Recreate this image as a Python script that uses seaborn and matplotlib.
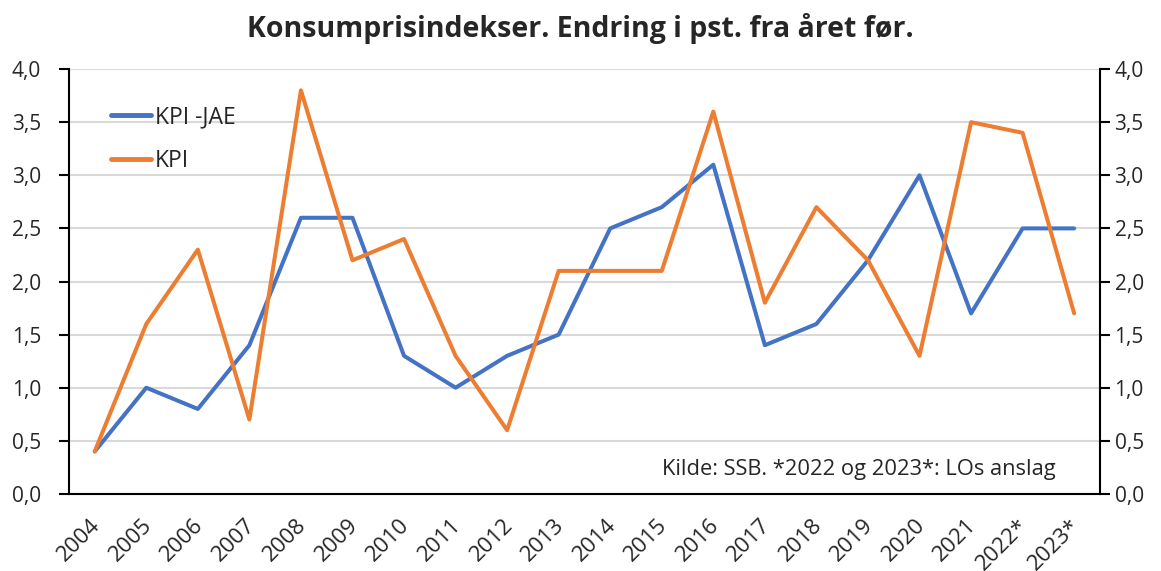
import matplotlib.pyplot as plt
import matplotlib.ticker as mticker
import matplotlib.transforms as mtrans
import numpy as np
import pandas as pd
import seaborn as sns

years = ['2004', '2005', '2006', '2007', '2008', '2009', '2010', '2011', '2012', '2013',
         '2014', '2015', '2016', '2017', '2018', '2019', '2020', '2021', '2022*', '2023*']
kpi_jae = [0.4, 1.0, 0.8, 1.4, 2.6, 2.6, 1.3, 1.0, 1.3, 1.5,
           2.5, 2.7, 3.1, 1.4, 1.6, 2.2, 3.0, 1.7, 2.5, 2.5]
kpi = [0.4, 1.6, 2.3, 0.7, 3.8, 2.2, 2.4, 1.3, 0.6, 2.1,
       2.1, 2.1, 3.6, 1.8, 2.7, 2.2, 1.3, 3.5, 3.4, 1.7]
series_names = ['KPI -JAE', 'KPI']
colors = ['#4472C4', '#ED7D31']

sns.set_style('white')
plt.rcParams['font.family'] = ['Open Sans', 'DejaVu Sans']

pos = np.arange(len(years))
df = pd.DataFrame({
    'pos': np.concatenate([pos, pos]),
    'value': kpi_jae + kpi,
    'serie': [series_names[0]] * len(years) + [series_names[1]] * len(years),
})

fig = plt.figure(figsize=(11.61, 5.71), dpi=100)
ax = fig.add_axes([0.0594, 0.135, 0.888, 0.744])

sns.lineplot(data=df, x='pos', y='value', hue='serie', palette=colors,
             linewidth=2.9, ax=ax, zorder=3)

ax.set_xlim(-0.5, len(years) - 0.5)
ax.set_ylim(0, 4)
ax.set_yticks(np.arange(0, 4.01, 0.5))
fmt = mticker.FuncFormatter(lambda v, p: f'{v:.1f}'.replace('.', ','))
ax.yaxis.set_major_formatter(fmt)
ax.grid(axis='y', color='#D9D9D9', linewidth=1.5, zorder=0)
ax.set_axisbelow(True)

# ticks at category boundaries, labels at centres
ax.set_xticks(np.arange(-0.5, len(years), 1.0))
ax.set_xticklabels([])
ax.set_xticks(pos, minor=True)
ax.set_xticklabels(years, minor=True, rotation=45, ha='right',
                   rotation_mode='anchor', fontsize=16)
ax.tick_params(axis='x', which='major', length=7, width=1.5, direction='out', color='black')
ax.tick_params(axis='x', which='minor', length=0, pad=15)
shift = mtrans.ScaledTranslation(-5 / 100, 0, fig.dpi_scale_trans)
for lbl in ax.get_xticklabels(minor=True):
    lbl.set_transform(lbl.get_transform() + shift)
ax.tick_params(axis='y', length=7, width=1.5, direction='out', labelsize=15,
               color='black', pad=13)

for s in ['top', 'right']:
    ax.spines[s].set_visible(False)
for s in ['left', 'bottom']:
    ax.spines[s].set_color('black')
    ax.spines[s].set_linewidth(1.5)

ax.set_xlabel('')
ax.set_ylabel('')

ax2 = ax.twinx()
ax2.set_ylim(0, 4)
ax2.set_yticks(np.arange(0, 4.01, 0.5))
ax2.yaxis.set_major_formatter(fmt)
ax2.tick_params(axis='y', length=7, width=1.5, direction='out', labelsize=15, color='black')
for s in ['top', 'left', 'bottom']:
    ax2.spines[s].set_visible(False)
ax2.spines['right'].set_color('black')
ax2.spines['right'].set_linewidth(1.5)

leg = ax.legend(loc='upper left', bbox_to_anchor=(0.027, 0.947), frameon=False,
                fontsize=16.5, handlelength=1.75, handletextpad=0.2, labelspacing=0.85,
                borderaxespad=0.2)
leg.set_title(None)
for h in leg.get_lines():
    h.set_linewidth(3.5)

ax.text(0.957, 0.057, 'Kilde: SSB. *2022 og 2023*: LOs anslag', transform=ax.transAxes,
        ha='right', va='center', fontsize=15.75, color='#262626')

fig.suptitle('Konsumprisindekser. Endring i pst. fra året før.', x=0.5, y=0.977,
             fontsize=20.5, fontweight='bold', va='top')

fig.savefig('out.png', dpi=100)
